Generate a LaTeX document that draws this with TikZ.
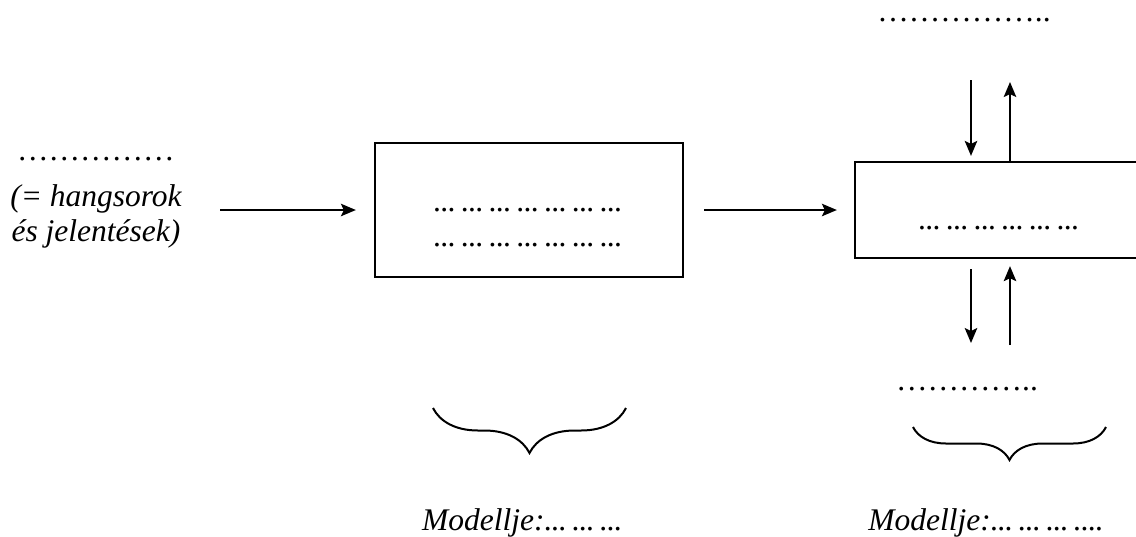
\documentclass[tikz,border=0pt]{standalone}
\usepackage{fontspec}
\setmainfont{Liberation Serif}
\usetikzlibrary{arrows.meta, positioning, calc, decorations.pathreplacing}
\newcommand{\pcs}{.\kern-0.02em.\kern-0.02em.\kern0.17em}
\tikzset{
    doboz/.style={draw, line width=0.9pt, inner sep=0pt},
    nyil/.style={line width=0.8pt, -{Stealth[length=6pt, width=5pt, inset=1.2pt]}},
    kapocs/.style={line width=0.8pt, decorate, decoration={brace, amplitude=#1}},
    szoveg/.style={inner sep=0pt, font=\fontsize{12.6}{14}\selectfont\itshape},
    pontok/.style={inner sep=0pt, font=\fontsize{12.6}{14}\selectfont}
}

\begin{document}
\begin{tikzpicture}[x=0.4pt, y=-0.4pt]
    \useasboundingbox (0,0) rectangle (1136,536);

    % Input text
    \node[szoveg, align=center] (bemenet) at (96,203) {{\upshape ……………}\\[4.5pt] (= hangsorok\\ és jelentések)};

    % Boxes
    \node[doboz, minimum width=123.2pt, minimum height=53.6pt] (nyelvtan) at (529,210) {};
    \node[szoveg, align=center] (nyelvtanszoveg) at (531,228) {\pcs\pcs\pcs\pcs\pcs\pcs\pcs\\\pcs\pcs\pcs\pcs\pcs\pcs\pcs};
    \node[doboz, minimum width=118pt, minimum height=38.4pt] (lexikon) at (1002.5,210) {};
    \node[szoveg, anchor=base] (lexikonszoveg) at (1002,229) {\pcs\pcs\pcs\pcs\pcs\pcs};

    % Above and below the second box
    \node[pontok, anchor=base] (felso) at (964,21) {……………..};
    \node[pontok, anchor=base] (also) at (967,390) {…………..};

    % Free ends of the vertical arrows
    \coordinate (fle) at (971,80);
    \coordinate (fel) at (1010,82);
    \coordinate (ale) at (971,343);
    \coordinate (alul) at (1010,345);

    % Arrows
    \draw[nyil, shorten <=15.2pt, shorten >=7.2pt] (bemenet.east |- nyelvtan) -- (nyelvtan);
    \draw[nyil, shorten <=8pt, shorten >=6.8pt] (nyelvtan) -- (lexikon);
    \draw[nyil, shorten >=2pt] (fle) -- (lexikon.north -| fle);
    \draw[nyil] (lexikon.north -| fel) -- (fel);
    \draw[nyil, shorten <=4pt] (lexikon.south -| ale) -- (ale);
    \draw[nyil, shorten >=2.8pt] (alul) -- (lexikon.south -| alul);

    % Braces
    \draw[kapocs=18pt] (626,408) -- (433,408);
    \draw[kapocs=13.2pt] (1106,427) -- (913,427);

    % Models
    \node[szoveg, anchor=base] (modell1) at (525,530) {Modellje:\pcs\pcs\pcs};
    \node[szoveg, anchor=base] (modell2) at (986,530) {Modellje:\pcs\pcs\pcs.\kern-0.02em.\kern-0.02em.\kern-0.02em.};

\end{tikzpicture}
\end{document}
